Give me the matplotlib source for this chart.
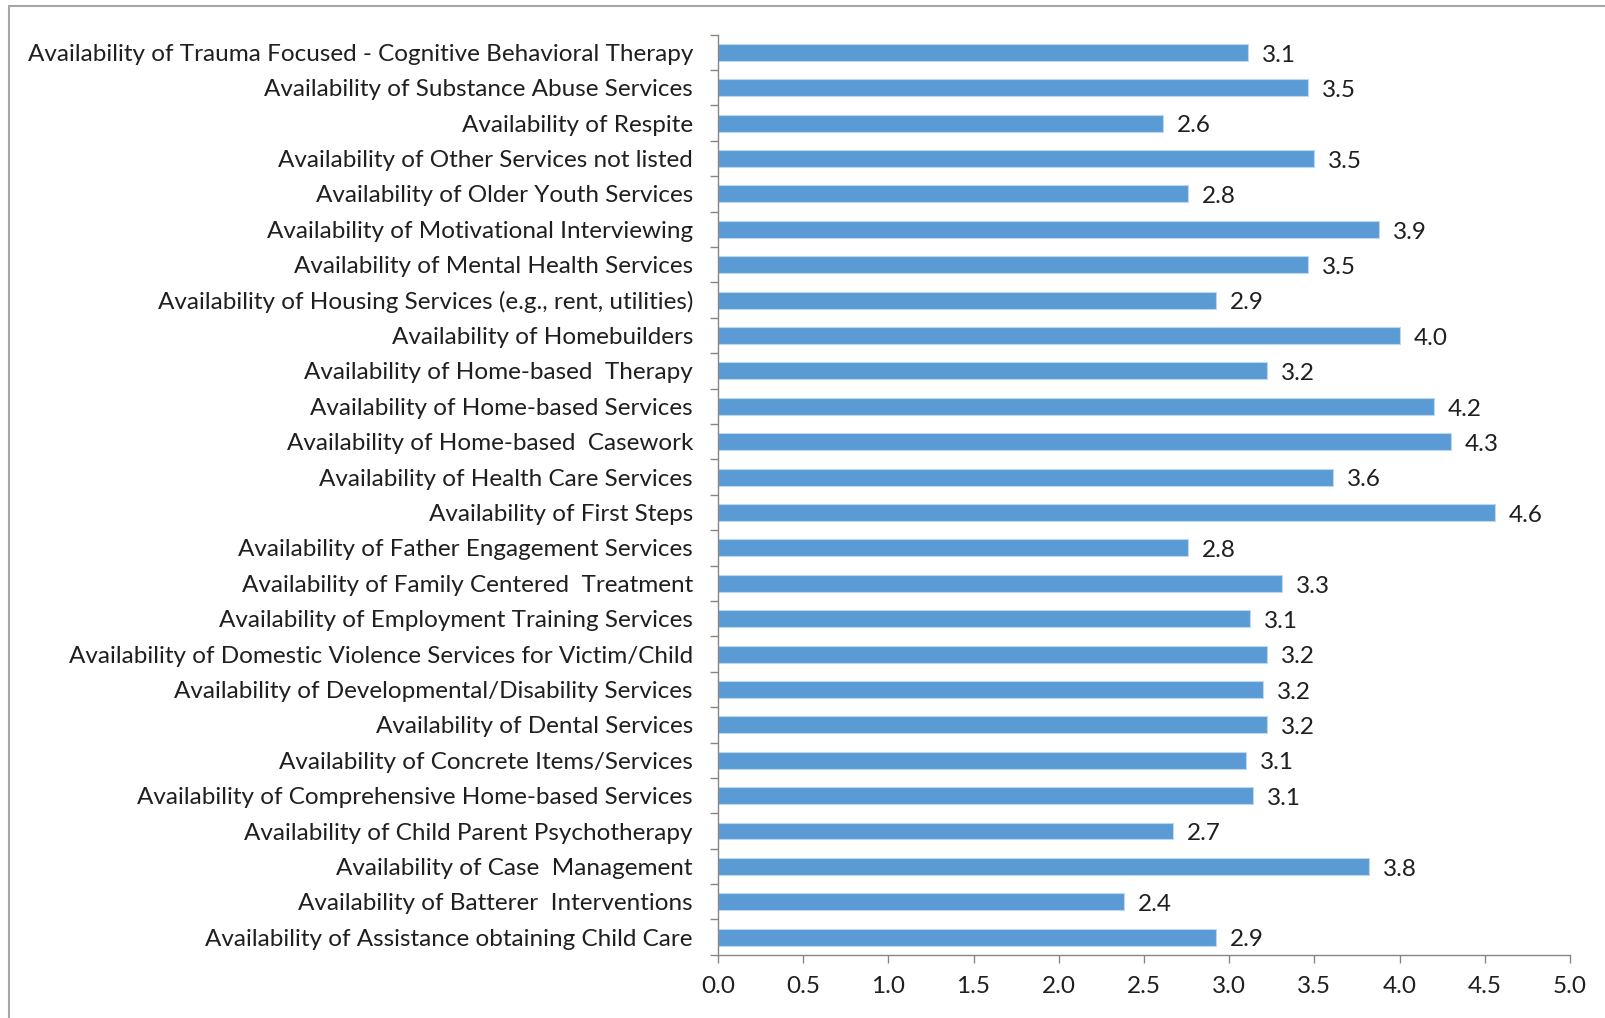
import matplotlib
matplotlib.use("Agg")
import matplotlib.pyplot as plt
from matplotlib.patches import Rectangle

# categories, top to bottom as in the chart
categories = [
    "Availability of Trauma Focused - Cognitive Behavioral Therapy",
    "Availability of Substance Abuse Services",
    "Availability of Respite",
    "Availability of Other Services not listed",
    "Availability of Older Youth Services",
    "Availability of Motivational Interviewing",
    "Availability of Mental Health Services",
    "Availability of Housing Services (e.g., rent, utilities)",
    "Availability of Homebuilders",
    "Availability of Home-based  Therapy",
    "Availability of Home-based Services",
    "Availability of Home-based  Casework",
    "Availability of Health Care Services",
    "Availability of First Steps",
    "Availability of Father Engagement Services",
    "Availability of Family Centered  Treatment",
    "Availability of Employment Training Services",
    "Availability of Domestic Violence Services for Victim/Child",
    "Availability of Developmental/Disability Services",
    "Availability of Dental Services",
    "Availability of Concrete Items/Services",
    "Availability of Comprehensive Home-based Services",
    "Availability of Child Parent Psychotherapy",
    "Availability of Case  Management",
    "Availability of Batterer  Interventions",
    "Availability of Assistance obtaining Child Care",
]
values = [3.11, 3.46, 2.61, 3.50, 2.76, 3.88, 3.46, 2.92, 4.00, 3.22, 4.20, 4.30, 3.61,
          4.56, 2.76, 3.31, 3.12, 3.22, 3.20, 3.22, 3.10, 3.14, 2.67, 3.82, 2.38, 2.92]
x_ticks = [0.0, 0.5, 1.0, 1.5, 2.0, 2.5, 3.0, 3.5, 4.0, 4.5, 5.0]

bar_color = "#5B9BD5"
text_color = "#1F1F1F"
axis_color = "#868686"
font = "Lato"
fsize = 17.5

fig = plt.figure(figsize=(16.06, 10.18), dpi=100)
ax = fig.add_axes([0.447, 0.062, 0.5306, 0.904])

pos = list(range(len(categories)))
ax.barh(pos, values, height=0.48, color=bar_color, edgecolor="#BDD7EE", linewidth=0.8)

for p, v in zip(pos, values):
    ax.annotate(f"{v:.1f}", xy=(v, p), xytext=(10, -2), textcoords="offset points",
                ha="left", va="center", fontsize=fsize, color=text_color, family=font)

ax.set_xlim(0, 5)
ax.set_ylim(len(categories) - 0.5, -0.5)

ax.set_yticks(pos)
ax.set_yticklabels(categories, fontsize=fsize, color=text_color, family=font)
ax.tick_params(axis="y", which="major", length=0, pad=18)
ax.set_yticks([p - 0.5 for p in pos] + [len(categories) - 0.5], minor=True)
ax.tick_params(axis="y", which="minor", length=6, color=axis_color, width=1)

ax.set_xticks(x_ticks)
ax.set_xticklabels([f"{t:.1f}" for t in x_ticks], fontsize=fsize, color=text_color, family=font)
ax.tick_params(axis="x", length=6, color=axis_color, width=1, pad=9)

for s in ["top", "right"]:
    ax.spines[s].set_visible(False)
for s in ["left", "bottom"]:
    ax.spines[s].set_color(axis_color)
    ax.spines[s].set_linewidth(1)

# outer chart border (right and bottom edges fall outside the image)
fig.patches.append(Rectangle((9 / 1606, -0.1), 1.2, 1.1 - 6 / 1018, transform=fig.transFigure,
                             fill=False, edgecolor="#A6A6A6", linewidth=1.5))

fig.savefig("out.png", dpi=100)
